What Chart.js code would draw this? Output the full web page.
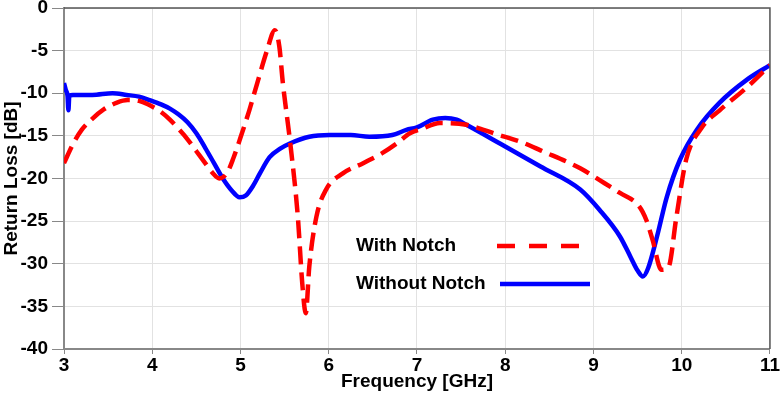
<!DOCTYPE html>
<html>
<head>
<meta charset="utf-8">
<title>Return Loss</title>
<script src="https://cdn.jsdelivr.net/npm/chart.js@4.4.1/dist/chart.umd.min.js"></script>
<style>
    html, body { margin: 0; padding: 0; background: #fff; }
    #wrap { width: 780px; height: 393px; position: relative; }
</style>
</head>
<body>
<div id="wrap"><canvas id="rlChart"></canvas></div>
<script>
    // With Notch (red dashed)
    const freqWith = [3.0, 3.1, 3.2, 3.32, 3.45, 3.6, 3.72, 3.85, 3.95, 4.1, 4.2, 4.3, 4.4, 4.5, 4.6, 4.68, 4.76, 4.85, 4.92, 5.0, 5.1, 5.19, 5.3, 5.39, 5.44, 5.48, 5.56, 5.65, 5.7, 5.74, 5.78, 5.86, 5.97, 6.16, 6.39, 6.61, 6.77, 6.92, 7.05, 7.26, 7.56, 7.9, 8.2, 8.4, 8.85, 9.07, 9.3, 9.52, 9.6, 9.67, 9.77, 9.85, 9.94, 10.05, 10.23, 10.43, 10.74, 11.0];
    const lossWith = [-18.2, -16.0, -14.3, -13.0, -11.9, -11.1, -10.8, -10.9, -11.3, -12.2, -13.1, -14.2, -15.4, -16.8, -18.2, -19.3, -20.0, -19.3, -17.6, -15.2, -12.0, -8.8, -5.0, -2.6, -4.5, -8.8, -15.5, -24.5, -32.3, -35.8, -30.3, -24.5, -21.3, -19.4, -18.2, -17.0, -15.9, -14.7, -14.2, -13.5, -13.7, -14.8, -15.8, -16.7, -18.8, -20.2, -21.7, -23.3, -24.9, -27.2, -30.7, -30.4, -24.5, -17.8, -14.0, -12.0, -9.3, -6.7];

    // Without Notch (blue solid)
    const freqWithout = [3.0, 3.02, 3.04, 3.05, 3.06, 3.1, 3.32, 3.55, 3.71, 3.85, 3.97, 4.1, 4.2, 4.3, 4.4, 4.5, 4.6, 4.7, 4.8, 4.9, 4.99, 5.06, 5.14, 5.22, 5.33, 5.45, 5.56, 5.78, 6.01, 6.25, 6.46, 6.72, 6.88, 7.0, 7.18, 7.32, 7.45, 7.56, 7.94, 8.4, 8.85, 9.07, 9.3, 9.42, 9.5, 9.56, 9.62, 9.72, 9.83, 9.98, 10.17, 10.43, 10.74, 11.0];
    const lossWithout = [-8.8, -9.6, -10.3, -12.0, -10.3, -10.2, -10.2, -10.0, -10.2, -10.4, -10.8, -11.3, -11.8, -12.5, -13.4, -14.7, -16.4, -18.2, -20.0, -21.4, -22.2, -22.0, -20.9, -19.4, -17.5, -16.5, -15.9, -15.1, -14.9, -14.9, -15.1, -14.9, -14.3, -14.0, -13.1, -12.9, -13.1, -13.7, -15.9, -18.6, -21.3, -23.7, -26.8, -29.2, -30.8, -31.5, -30.5, -26.8, -22.2, -17.8, -14.3, -11.1, -8.4, -6.7];

    const seriesNames = ['With Notch', 'Without Notch'];
    const seriesColors = ['#ff0000', '#0000ff'];

    const FONT = '"Liberation Sans", Arial, sans-serif';

    function toPoints(xs, ys) {
        return xs.map((x, i) => ({ x: x, y: ys[i] }));
    }

    // frame on top/right + legend drawn inside the plot
    const framePlugin = {
        id: 'framePlugin',
        afterDatasetsDraw(chart) {
            const ctx = chart.ctx;
            const a = chart.chartArea;
            ctx.save();
            ctx.strokeStyle = '#555';
            ctx.lineWidth = 1.5;
            ctx.beginPath();
            ctx.moveTo(a.left, a.top);
            ctx.lineTo(a.right, a.top);
            ctx.lineTo(a.right, a.bottom);
            ctx.stroke();

            // legend
            const rows = [
                { y: 246, x1: 497, x2: 588, dash: [18, 14] },
                { y: 284, x1: 500, x2: 590, dash: [] }
            ];
            ctx.font = 'bold 19px ' + FONT;
            ctx.textBaseline = 'middle';
            ctx.fillStyle = '#000';
            rows.forEach((r, i) => {
                ctx.fillText(seriesNames[i], 356, r.y);
                ctx.strokeStyle = seriesColors[i];
                ctx.lineWidth = 4.5;
                ctx.setLineDash(r.dash);
                ctx.beginPath();
                ctx.moveTo(r.x1, r.y);
                ctx.lineTo(r.x2, r.y);
                ctx.stroke();
            });
            ctx.restore();
        }
    };

    const ctx = document.getElementById('rlChart').getContext('2d');
    const rlChart = new Chart(ctx, {
        type: 'line',
        data: {
            datasets: [{
                label: seriesNames[0],
                data: toPoints(freqWith, lossWith),
                borderColor: seriesColors[0],
                borderWidth: 4.5,
                borderDash: [18, 8],
                pointRadius: 0,
                cubicInterpolationMode: 'monotone',
                fill: false
            }, {
                label: seriesNames[1],
                data: toPoints(freqWithout, lossWithout),
                borderColor: seriesColors[1],
                borderWidth: 4.5,
                pointRadius: 0,
                cubicInterpolationMode: 'monotone',
                fill: false
            }]
        },
        options: {
            responsive: true,
            maintainAspectRatio: false,
            animation: false,
            layout: { padding: { top: 8, right: 10, left: 0, bottom: 0 } },
            scales: {
                x: {
                    type: 'linear',
                    min: 3,
                    max: 11,
                    ticks: {
                        stepSize: 1,
                        color: '#000',
                        padding: 0,
                        maxRotation: 0,
                        font: { family: FONT, size: 19, weight: 'bold' }
                    },
                    grid: { color: '#e2e2e2', tickColor: '#888', tickLength: 5 },
                    border: { color: '#888', width: 2 },
                    title: {
                        display: true,
                        text: 'Frequency [GHz]',
                        color: '#000',
                        padding: { top: -4, bottom: 0 },
                        font: { family: FONT, size: 19, weight: 'bold' }
                    },
                    afterFit(scale) { scale.height = 44; }
                },
                y: {
                    min: -40,
                    max: 0,
                    ticks: {
                        stepSize: 5,
                        color: '#000',
                        padding: 4,
                        font: { family: FONT, size: 19, weight: 'bold' }
                    },
                    grid: { color: '#e2e2e2', tickColor: '#888', tickLength: 12 },
                    border: { color: '#888', width: 2 },
                    title: {
                        display: true,
                        text: 'Return Loss [dB]',
                        color: '#000',
                        padding: { top: 0, bottom: 0 },
                        font: { family: FONT, size: 19, weight: 'bold' }
                    },
                    afterFit(scale) {
                        scale.width = 64;
                        scale.paddingTop = 0;
                        scale.paddingBottom = 0;
                    }
                }
            },
            plugins: {
                legend: { display: false },
                tooltip: { enabled: false }
            }
        },
        plugins: [framePlugin]
    });
</script>
</body>
</html>
